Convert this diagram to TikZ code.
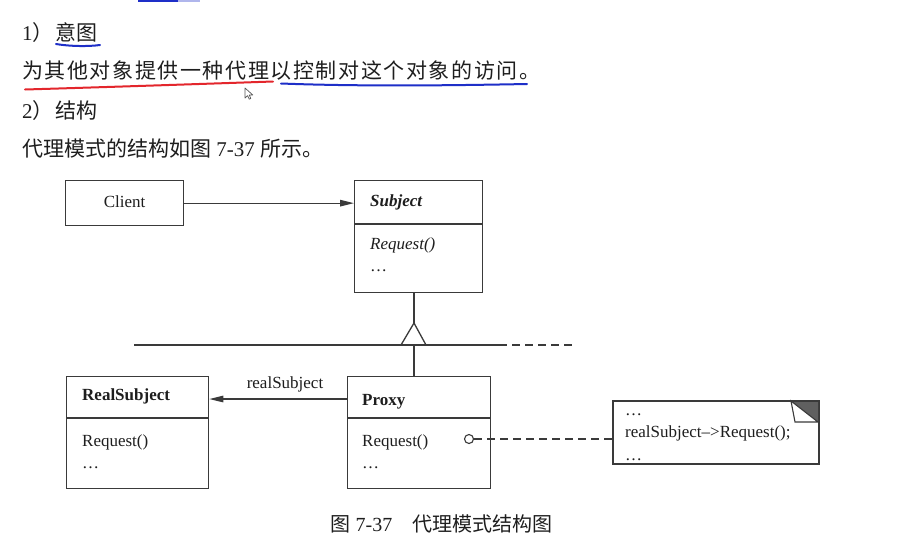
\documentclass[tikz,border=0pt]{standalone}
\usepackage{fontspec}
\setmainfont{Liberation Serif}
\newfontfamily\cjk{Noto Sans CJK SC}
% justified paragraph line: slightly wider character pitch
\newfontfamily\cjkspread[LetterSpace=7.6]{Noto Sans CJK SC}
\usetikzlibrary{arrows.meta}

\definecolor{ink}{HTML}{1E1E1E}
\definecolor{umlline}{HTML}{3A3A3A}
\definecolor{penred}{HTML}{E3262C}
\definecolor{penblue}{HTML}{1E2FC8}

\tikzset{
  body/.style={inner sep=0pt, text=ink, font=\fontsize{21}{21}\selectfont},
  txt/.style={inner sep=0pt, text=ink, font=\fontsize{17}{17}\selectfont},
  umlbox/.style={draw=umlline, line width=1.3pt, fill=white, inner sep=0pt, anchor=north west},
  umlconn/.style={draw=umlline, line width=1.3pt},
  filledtip/.style={-{Triangle[length=14pt,width=6.5pt]}},
  ink stroke/.style={line width=2pt, line cap=round},
}

\begin{document}
\begin{tikzpicture}[x=1pt,y=-1pt]
\useasboundingbox[fill=white] (0,0) rectangle (903,555);

% ---- text above the diagram ----
\draw[penblue, line width=2.2pt] (138,0.8) -- (178,0.8);
\draw[penblue!35, line width=2.2pt] (178,0.8) -- (200,0.8);

\node[body, anchor=base west] (intent) at (22,40) {1{\cjk ）\kern2pt 意图}};
\node[body, anchor=base west] (intenttext) at (22,78) {{\cjkspread 为其他对象提供一种代理以控制对这个对象的访问。}};
\node[body, anchor=base west] (structure) at (22,118) {2{\cjk ）\kern2pt 结构}};
\node[body, anchor=base west] (structtext) at (22,156) {{\cjk 代理模式的结构如图} 7-37 {\cjk 所示。}};

% hand-drawn underlines
\draw[penblue, ink stroke] (56,44) .. controls (71,46.5) and (89,46.5) .. (100,45);
\draw[penred, ink stroke] (25,89.5) .. controls (110,87) and (200,84) .. (273,81.5);
\draw[penblue, ink stroke] (281,83.5) .. controls (360,86.5) and (450,85.5) .. (527,84);

% pointer
\draw[gray!70!black, line width=0.7pt, fill=white, line join=round]
  (245,88) -- (245,98) -- (247.6,95.6) -- (249.2,99.2) -- (250.8,98.5) -- (249.3,95) -- (252.8,95) -- cycle;

% ---- class diagram ----
\node[umlbox, minimum width=118pt, minimum height=45pt] (client) at (65,180) {};
\node[txt, anchor=base] (clientname) at (client.center |- 0,207) {Client};

\node[umlbox, minimum width=128pt, minimum height=112pt] (subject) at (354,180) {};
\draw[umlconn] (subject.west |- 0,224) -- (subject.east |- 0,224);
\node[txt, anchor=base west, font=\fontsize{17}{17}\selectfont\bfseries\itshape] (subjectname) at (370,206) {Subject};
\node[txt, anchor=base west, font=\fontsize{17}{17}\selectfont\itshape] (subjectop) at (370,249) {Request()};
\node[txt, anchor=base west] (subjectmore) at (370,271) {…};

\node[umlbox, minimum width=142pt, minimum height=112pt] (realsubject) at (66,376) {};
\draw[umlconn] (realsubject.west |- 0,418) -- (realsubject.east |- 0,418);
\node[txt, anchor=base west, font=\fontsize{17}{17}\selectfont\bfseries] (realname) at (82,400) {RealSubject};
\node[txt, anchor=base west] (realop) at (82,446) {Request()};
\node[txt, anchor=base west] (realmore) at (82,468) {…};

\node[umlbox, minimum width=143pt, minimum height=112pt] (proxy) at (347,376) {};
\draw[umlconn] (proxy.west |- 0,418) -- (proxy.east |- 0,418);
\node[txt, anchor=base west, font=\fontsize{17}{17}\selectfont\bfseries] (proxyname) at (362,405) {Proxy};
\node[txt, anchor=base west] (proxyop) at (362,446) {Request()};
\node[txt, anchor=base west] (proxymore) at (362,468) {…};

% note with folded corner
\node[umlbox, line width=1.1pt, minimum width=205pt, minimum height=62pt] (note) at (613,401) {};
\fill[gray!75!black] (791,401) -- (818,401) -- (818,422) -- cycle;
\draw[umlline, line width=1.1pt, fill=white] (791,401) -- (795,422) -- (818,422) -- cycle;
\draw[umlline, line width=1.1pt] (note.north west) rectangle (note.south east);
\node[txt, anchor=base west] (notel1) at (625,415) {…};
\node[txt, anchor=base west] (notel2) at (625,437) {realSubject\textendash{}>Request();};
\node[txt, anchor=base west] (notel3) at (625,460) {…};

% association Client -> Subject
\draw[umlconn, filledtip] (client.east) -- (subject.west |- client.east);

% generalization
\coordinate (apex) at (414,323);
\coordinate (baseL) at (401,345);
\coordinate (baseR) at (426,345);
\coordinate (barL) at (134,345);
\coordinate (barR) at (507,345);
\draw[umlconn] (apex |- subject.south) -- (apex);
\draw[umlconn, line join=miter] (baseL) -- (apex) -- (baseR);
\draw[umlconn] (barL) -- (barR);
\draw[umlconn, dash pattern=on 8pt off 5pt] (512,345) -- (572,345);
\draw[umlconn] (apex |- barL) -- (apex |- proxy.north);

% association Proxy -> RealSubject
\coordinate (assoc) at (0,399);
\draw[umlconn, filledtip] (proxy.west |- assoc) -- (realsubject.east |- assoc);
\node[txt, anchor=base] (assoclabel) at (285,388) {realSubject};

% note attachment
\node[circle, draw=umlline, line width=1.1pt, fill=white, minimum size=9pt, inner sep=0pt] (dot) at (469,439) {};
\draw[umlconn, line width=1.1pt, dash pattern=on 8pt off 5pt] (dot.east) -- (note.west |- dot.east);

% caption
\node[inner sep=0pt, text=ink, font=\fontsize{20}{20}\selectfont, anchor=base] (caption) at (441.5,531)
  {{\cjk 图} 7-37\quad{\cjk 代理模式结构图}};
\end{tikzpicture}
\end{document}
